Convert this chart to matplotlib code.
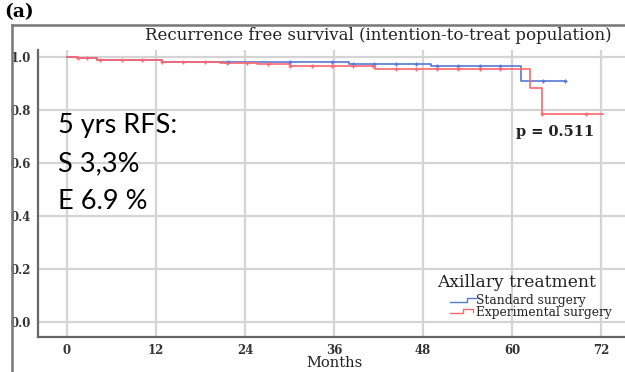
import matplotlib
matplotlib.use("Agg")
import matplotlib.pyplot as plt
from matplotlib.lines import Line2D

# Kaplan-Meier step data (months, survival probability)
std_times = [0, 1.3, 4.0, 12.8, 38.0, 49.0, 61.2]
std_surv = [1.0, 0.995, 0.990, 0.982, 0.974, 0.964, 0.910]
std_end = 67.3
std_censor = [21.7, 30.0, 35.7, 38.6, 41.4, 44.3, 47.0, 49.9, 52.7, 55.7, 58.4, 64.2, 67.1]

exp_times = [0, 1.3, 4.0, 12.8, 20.6, 25.6, 30.0, 41.5, 62.4, 64.0]
exp_surv = [1.0, 0.995, 0.990, 0.982, 0.976, 0.972, 0.967, 0.954, 0.882, 0.786]
exp_end = 72.3
exp_censor = [1.5, 2.7, 4.4, 7.4, 10.1, 12.8, 15.6, 18.6, 21.6, 24.3, 27.1, 30.1,
              33.0, 35.7, 38.6, 41.3, 44.3, 47.0, 49.9, 52.7, 55.7, 58.4, 64.0, 70.0]

x_ticks = [0, 12, 24, 36, 48, 60, 72]
y_ticks = [0.0, 0.2, 0.4, 0.6, 0.8, 1.0]
group_labels = ["Standard surgery", "Experimental surgery"]
rfs_lines = ["5 yrs RFS:", "S 3,3%", "E 6.9 %"]

BLUE = "#5579d4"
RED = "#ff6670"
W, H = 625, 372


def fpx(x, y):
    return x / W, 1 - y / H


fig = plt.figure(figsize=(W / 100, H / 100), dpi=100)
ax = fig.add_axes([38 / W, 1 - 337 / H, (W - 38) / W, (337 - 50) / H])

serif = "DejaVu Serif"
TXT = "#222222"


def surv_at(times, surv, t):
    s = surv[0]
    for ti, si in zip(times, surv):
        if ti <= t:
            s = si
    return s


for times, surv, end, cens, col in [
    (std_times, std_surv, std_end, std_censor, BLUE),
    (exp_times, exp_surv, exp_end, exp_censor, RED),
]:
    ax.step(times + [end], surv + [surv[-1]], where="post", color=col, lw=1.2, zorder=3)
    cy = [surv_at(times, surv, t) for t in cens]
    ax.plot(cens, cy, ls="none", marker="+", ms=3.5, mew=1.0, color=col, zorder=4)

ax.set_xlim(-3.9, 75.2)
ax.set_ylim(-0.057, 1.026)
ax.set_xticks(x_ticks)
ax.set_yticks(y_ticks)
ax.set_xticklabels([str(t) for t in x_ticks], family=serif, fontsize=8.5, fontweight="bold", color="#333333")
ax.set_yticklabels([f"{v:.1f}" for v in y_ticks], family=serif, fontsize=8.5, fontweight="bold", color="#333333")
ax.tick_params(length=0, pad=5)
ax.grid(True, color="#d4d4d4", lw=1.6)
ax.set_axisbelow(True)
for s in ["top", "right"]:
    ax.spines[s].set_visible(False)
for s in ["left", "bottom"]:
    ax.spines[s].set_color("#666666")
    ax.spines[s].set_linewidth(1.6)

# Outer panel frame
fig.add_artist(Line2D([fpx(12, 0)[0], fpx(12, 0)[0]], [fpx(0, 25)[1], 0], transform=fig.transFigure,
                      color="#777777", lw=1.8))
fig.add_artist(Line2D([fpx(12, 0)[0], 1], [fpx(0, 25)[1], fpx(0, 25)[1]], transform=fig.transFigure,
                      color="#777777", lw=1.8))

fig.text(*fpx(4, 12), "(a)", family=serif, fontsize=13.5, fontweight="bold", va="center", ha="left")
fig.text(*fpx(378, 35), "Recurrence free survival (intention-to-treat population)", family=serif,
         fontsize=12, ha="center", va="center", color=TXT)
fig.text(*fpx(334, 356), "Months", family=serif, fontsize=10.5, ha="center", va="top", color=TXT)

# Five-year RFS annotation
for i, line in enumerate(rfs_lines):
    fig.text(*fpx(58, 133 + i * 38), line, family="Lato", fontsize=19.5, ha="left", va="baseline",
             color="black")

fig.text(*fpx(555, 136), "p = 0.511", family=serif, fontsize=10.5, fontweight="bold", ha="center",
         va="baseline", color=TXT)

# Legend
fig.text(*fpx(517, 287), "Axillary treatment", family=serif, fontsize=12.3, ha="center",
         va="baseline", color=TXT)
fig.text(*fpx(476, 304), group_labels[0], family=serif, fontsize=8.8, ha="left", va="baseline",
         color=TXT)
fig.text(*fpx(476, 316), group_labels[1], family=serif, fontsize=8.8, ha="left", va="baseline",
         color=TXT)
hx = [450, 467, 467, 476]
bx, by = zip(*[fpx(x, y) for x, y in zip(hx, [302, 302, 298, 298])])
fig.add_artist(Line2D(bx, by, transform=fig.transFigure, color=BLUE, lw=1.0))
hx2 = [450, 463, 463, 473, 473]
rx, ry = zip(*[fpx(x, y) for x, y in zip(hx2, [313, 313, 309, 309, 312])])
fig.add_artist(Line2D(rx, ry, transform=fig.transFigure, color=RED, lw=1.0))

fig.savefig("out.png", dpi=100)
